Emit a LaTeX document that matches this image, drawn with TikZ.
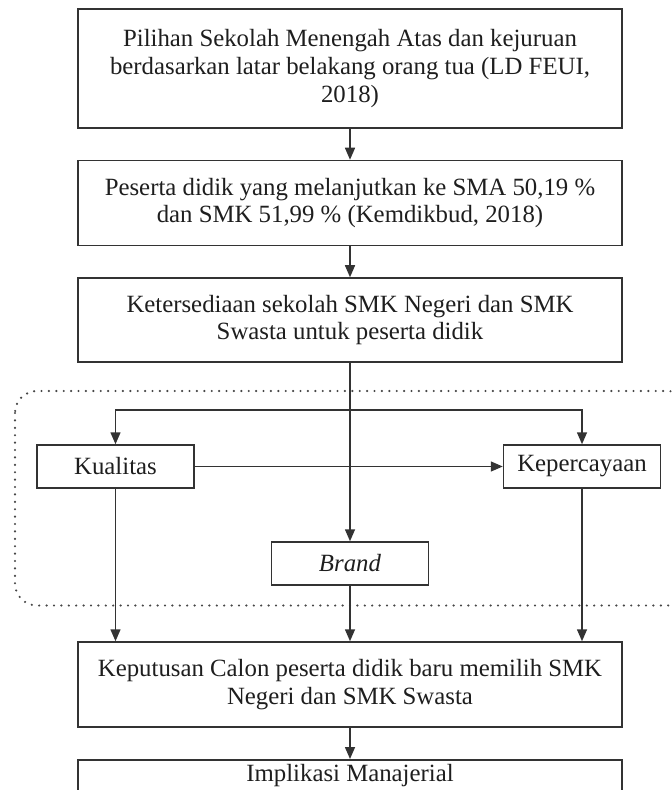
\documentclass[tikz,border=0pt]{standalone}
\usepackage{fontspec}
\setmainfont{Liberation Serif}
\usetikzlibrary{arrows.meta}
\definecolor{linegray}{HTML}{333333}
\definecolor{textgray}{HTML}{1E1E1E}
\tikzset{mainbox/.style={draw=linegray,line width=0.75pt,minimum width=272pt,align=center,
  text=textgray,font=\fontsize{12.4}{13.9}\selectfont,inner sep=0pt},
 factorbox/.style={mainbox,minimum width=78.5pt,minimum height=21.5pt},
 flow/.style={draw=linegray,line width=0.75pt,-{Triangle[length=6pt,width=5pt]}},
 grouping/.style={draw=gray!55!black,line width=1.2pt,line cap=round,
  dash pattern=on 0pt off 3.7pt,rounded corners=11pt},
 }

\begin{document}
\begin{tikzpicture}[x=0.5pt,y=-0.5pt]
        \clip (0,0) rectangle (672,790);
        \draw[grouping] (15,391) rectangle (690,605.5);
        \node[mainbox,minimum height=59.5pt] (choice) at (350,68.5)
            {Pilihan Sekolah Menengah Atas dan kejuruan\\
             berdasarkan latar belakang orang tua (LD FEUI,\\ 2018)};
        \node[mainbox,minimum height=42.5pt] (share) at (350,203)
            {Peserta didik yang melanjutkan ke SMA 50,19 \%\\
             dan SMK 51,99 \% (Kemdikbud, 2018)};
        \node[mainbox,minimum height=42pt] (supply) at (350,320)
            {Ketersediaan sekolah SMK Negeri dan SMK\\
             Swasta untuk peserta didik};
        \node[factorbox] (quality) at (115.5,466.5) {Kualitas};
        \node[factorbox] (trust) at (582,466.5) {Kepercayaan};
        \node[factorbox] (brand) at (350,563.5) {\textit{Brand}};
        \node[mainbox,minimum height=42.5pt] (decision) at (350,684.5)
            {Keputusan Calon peserta didik baru memilih SMK\\
             Negeri dan SMK Swasta};
        \node[mainbox,anchor=north,inner ysep=2.2pt,text depth=36pt] (impl) at (350,759)
            {Implikasi Manajerial};
        \coordinate (split) at (350,410);
        \draw[flow] (choice) -- (share);
        \draw[flow] (share) -- (supply);
        \draw[flow] (supply) -- (brand);
        \draw[flow] (split) -| (quality.north);
        \draw[flow] (split) -| (trust.north);
        \draw[flow] (quality) -- (trust);
        \draw[flow] (quality.south) -- (quality.south |- decision.north);
        \draw[flow] (brand) -- (decision);
        \draw[flow] (trust.south) -- (trust.south |- decision.north);
        \draw[flow] (decision) -- (impl);
    \end{tikzpicture}
\end{document}
